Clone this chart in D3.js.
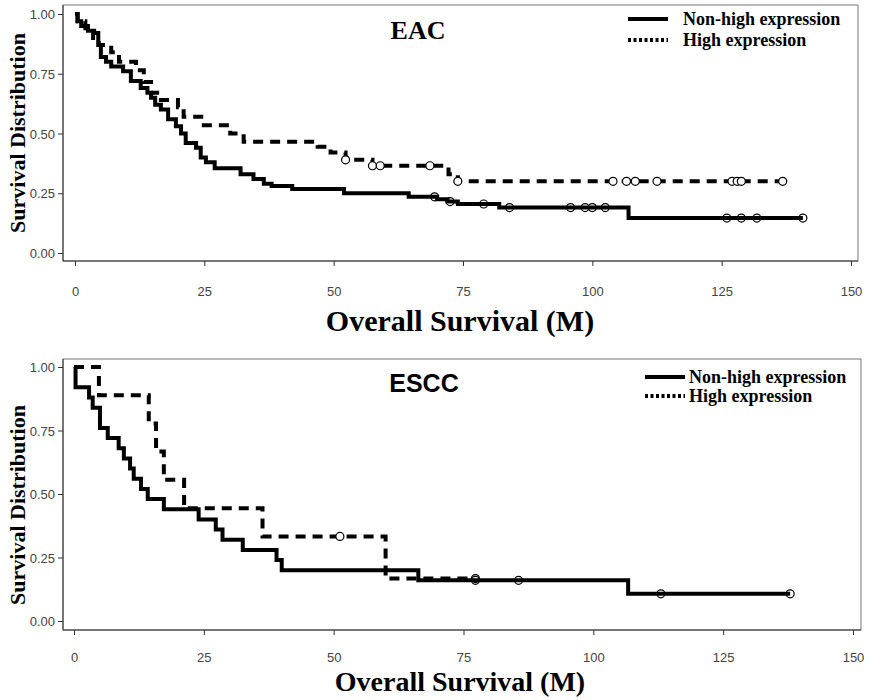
<!DOCTYPE html>
<html lang="en">
<head>
<meta charset="UTF-8">
<title>EAC / ESCC survival</title>
<script src="https://d3js.org/d3.v7.min.js"></script>
<style>
    body { margin:0; background:#fff; }
    .tick text { font-family:"Liberation Sans", Arial, sans-serif; font-size:13px; fill:#444; }
    .tick line { stroke:#333; }
    .serif { font-family:"Liberation Serif", "Times New Roman", serif; font-weight:bold; }
</style>
</head>
<body>
<script>

// EAC - non-high expression: month of each drop and survival after it
var eacLowT = [0, 0.5, 1.2, 2.5, 3.7, 4.5, 5, 6, 7, 9.3, 10.8, 12.7, 14, 14.7, 15.5, 16.6, 18, 19.5, 20.5, 21.4, 23.4, 24.3, 25.3, 27, 32, 34.5, 36.5, 38, 42, 52, 64.5, 70, 72, 74, 82, 107];
var eacLowS = [1, 0.97, 0.95, 0.93, 0.92, 0.87, 0.82, 0.80, 0.78, 0.76, 0.72, 0.69, 0.67, 0.65, 0.62, 0.60, 0.56, 0.53, 0.50, 0.46, 0.44, 0.40, 0.38, 0.355, 0.33, 0.31, 0.29, 0.28, 0.268, 0.25, 0.235, 0.225, 0.215, 0.205, 0.19, 0.146];
var eacLowCens = [69.5, 72.5, 79, 84, 95.8, 98.6, 100, 102.5, 126, 128.8, 131.8, 140.7];

// EAC - high expression
var eacHighT = [0, 0.5, 2, 3.5, 4.6, 7, 8.5, 11.8, 13.3, 14.7, 16.6, 19.9, 21, 24.9, 30, 32.6, 46.9, 49.4, 52.3, 57.5, 72.2, 74];
var eacHighS = [1, 0.97, 0.94, 0.90, 0.87, 0.84, 0.80, 0.765, 0.715, 0.67, 0.64, 0.61, 0.57, 0.535, 0.50, 0.465, 0.445, 0.42, 0.39, 0.365, 0.33, 0.30];
var eacHighCens = [52.3, 57.5, 59, 68.6, 74, 104, 106.6, 108.3, 112.5, 127, 128, 128.8, 136.8];

// ESCC - non-high expression
var esccLowT = [0, 0.3, 2.9, 3.6, 5, 6.5, 8.6, 9.6, 10.8, 11.5, 12.9, 14.2, 17.3, 24, 27.3, 28.6, 32.5, 39, 40, 66.3, 106.7];
var esccLowS = [1, 0.92, 0.88, 0.84, 0.76, 0.72, 0.68, 0.64, 0.60, 0.56, 0.52, 0.48, 0.44, 0.40, 0.36, 0.32, 0.28, 0.24, 0.20, 0.16, 0.107];
var esccLowCens = [77.3, 85.6, 113, 137.9];

// ESCC - high expression
var esccHighT = [0, 4.8, 14.4, 15.8, 17.3, 21.2, 36.3, 60];
var esccHighS = [1, 0.889, 0.778, 0.667, 0.556, 0.444, 0.333, 0.167];
var esccHighCens = [51.2, 77.3];

var xTicks = [0, 25, 50, 75, 100, 125, 150];
var yTicks = [0, 0.25, 0.5, 0.75, 1];
var legendLabels = ["Non-high expression", "High expression"];

var w = 870, h = 700;

var svg = d3.select("body")
            .append("svg")
            .attr("width", w)
            .attr("height", h);

//one panel per histology
var panels = [
    { title:"EAC", titleFont:"serif", titleX:418, titleY:39,
      frame:[63, 5, 858, 261], xr:[75, 851], yr:[253, 14],
      tickY:296, xTitleY:331, xTitleSize:30, yTitleY:133,
      legX:628, legTextX:683, legY:[19, 40],
      low:[eacLowT, eacLowS, eacLowCens], high:[eacHighT, eacHighS, eacHighCens] },
    { title:"ESCC", titleFont:"sans", titleX:424, titleY:392,
      frame:[63, 359, 861, 630], xr:[74, 853], yr:[621, 367],
      tickY:662, xTitleY:691, xTitleSize:28, yTitleY:505,
      legX:645, legTextX:689, legY:[377, 396],
      low:[esccLowT, esccLowS, esccLowCens], high:[esccHighT, esccHighS, esccHighCens] }
];

function drawPanel(p) {
    var g = svg.append("g");
    var f = p.frame;

    var x = d3.scaleLinear().domain([0, 150]).range(p.xr);
    var y = d3.scaleLinear().domain([0, 1]).range(p.yr);

    //box
    g.append("rect")
     .attr("x", f[0]).attr("y", f[1])
     .attr("width", f[2] - f[0]).attr("height", f[3] - f[1])
     .attr("fill", "none").attr("stroke", "#777").attr("stroke-width", 1);

    //axes
    var yAxis = g.append("g")
        .attr("transform", "translate(" + f[0] + ",0)")
        .call(d3.axisLeft(y).tickValues(yTicks).tickFormat(d3.format(".2f")).tickSize(5).tickPadding(3));
    yAxis.select(".domain").remove();
    yAxis.selectAll(".tick text").attr("dy", "0.35em");

    var xAxis = g.append("g")
        .attr("transform", "translate(0," + f[3] + ")")
        .call(d3.axisBottom(x).tickValues(xTicks).tickSize(5).tickPadding(3));
    xAxis.select(".domain").remove();
    xAxis.selectAll(".tick text").attr("y", p.tickY - f[3]).attr("dy", 0);

    g.append("line")
     .attr("x1", f[0]).attr("x2", f[0]).attr("y1", f[1]).attr("y2", f[3])
     .attr("stroke", "#333");
    g.append("line")
     .attr("x1", f[0]).attr("x2", f[2]).attr("y1", f[3]).attr("y2", f[3])
     .attr("stroke", "#333");

    //axis titles
    g.append("text")
     .classed("serif", true)
     .attr("x", 460).attr("y", p.xTitleY)
     .attr("text-anchor", "middle")
     .attr("font-size", p.xTitleSize + "px")
     .text("Overall Survival (M)");

    g.append("text")
     .classed("serif", true)
     .attr("transform", "translate(25," + p.yTitleY + ") rotate(-90)")
     .attr("text-anchor", "middle")
     .attr("font-size", "22px")
     .text("Survival Distribution");

    g.append("text")
     .attr("x", p.titleX).attr("y", p.titleY)
     .attr("text-anchor", "middle")
     .attr("font-family", p.titleFont == "serif" ? "'Liberation Serif', serif" : "'Liberation Sans', Arial, sans-serif")
     .attr("font-weight", "bold")
     .attr("font-size", p.titleFont == "serif" ? "26px" : "25px")
     .text(p.title);

    //curves
    var line = d3.line()
        .x(function(d) { return x(d[0]); })
        .y(function(d) { return y(d[1]); })
        .curve(d3.curveStepAfter);

    var series = [
        { data:p.high, dash:"10,7", fill:"#fff" },
        { data:p.low, dash:null, fill:"none" }
    ];

    series.forEach(function(s) {
        var t = s.data[0], sv = s.data[1], cens = s.data[2];
        var pts = t.map(function(d, i) { return [d, sv[i]]; });
        var end = Math.max(d3.max(cens), d3.max(t));
        pts.push([end, sv[sv.length - 1]]);

        g.append("path")
         .datum(pts)
         .attr("d", line)
         .attr("fill", "none")
         .attr("stroke", "#000")
         .attr("stroke-width", 4)
         .attr("stroke-dasharray", s.dash);

        g.selectAll(null)
         .data(cens)
         .enter()
         .append("circle")
         .attr("cx", function(c) { return x(c); })
         .attr("cy", function(c) {
             var i = d3.bisectRight(t, c) - 1;
             return y(sv[i]);
         })
         .attr("r", 4)
         .attr("fill", s.fill)
         .attr("stroke", "#000")
         .attr("stroke-width", 1.2);
    });

    //legend
    legendLabels.forEach(function(lab, i) {
        g.append("line")
         .attr("x1", p.legX).attr("x2", p.legX + 40)
         .attr("y1", p.legY[i]).attr("y2", p.legY[i])
         .attr("stroke", "#000")
         .attr("stroke-width", 4)
         .attr("stroke-dasharray", i == 0 ? null : "3,2.5");
        g.append("text")
         .classed("serif", true)
         .attr("x", p.legTextX).attr("y", p.legY[i])
         .attr("dy", "0.35em")
         .attr("font-size", "18px")
         .text(lab);
    });
}

panels.forEach(drawPanel);

</script>
</body>
</html>
